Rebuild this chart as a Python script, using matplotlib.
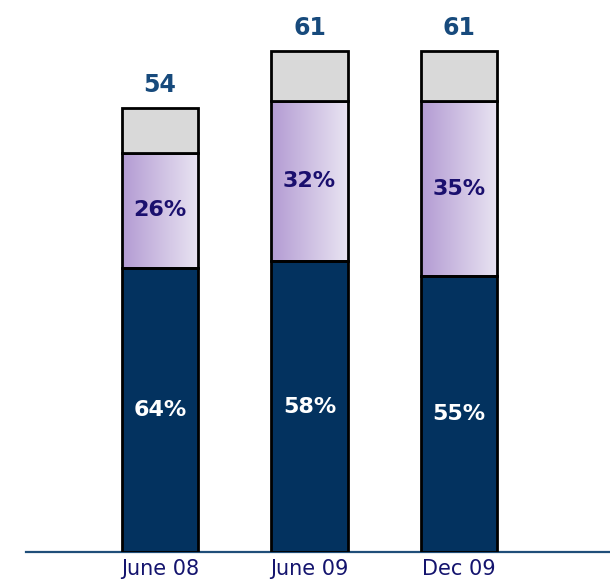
import matplotlib.pyplot as plt
import numpy as np
from matplotlib.colors import LinearSegmentedColormap

# totals and the share of each part (percent)
periods = ['June 08', 'June 09', 'Dec 09']
totals = [54, 61, 61]
share_main = [64, 58, 55]
share_mid = [26, 32, 35]
share_rest = [100 - a - b for a, b in zip(share_main, share_mid)]

NAVY = '#03325f'
GREY = '#d9d9d9'
TOTAL_COLOR = '#174a7c'
MID_TEXT = '#1a0f6e'
purple_fade = LinearSegmentedColormap.from_list('fade', ['#b39bd3', '#e9e4f2'])

fig = plt.figure(figsize=(6.10, 5.86), dpi=100)
ax = fig.add_axes([26 / 610, 34 / 586, 584 / 610, 552 / 586])

x = np.arange(len(periods))
width = 0.51
main = np.array(totals) * np.array(share_main) / 100
mid = np.array(totals) * np.array(share_mid) / 100
rest = np.array(totals) * np.array(share_rest) / 100

grad = np.linspace(0, 1, 256).reshape(1, -1)
for i in range(len(periods)):
    x0 = x[i] - width / 2
    # bottom block
    ax.bar(x[i], main[i], width, color=NAVY, edgecolor='black', linewidth=2, zorder=3)
    # middle block with a left-to-right purple fade
    ax.imshow(grad, cmap=purple_fade, aspect='auto', zorder=2,
              extent=(x0, x0 + width, main[i], main[i] + mid[i]))
    ax.bar(x[i], mid[i], width, bottom=main[i], facecolor='none',
           edgecolor='black', linewidth=2, zorder=3)
    # top block
    ax.bar(x[i], rest[i], width, bottom=main[i] + mid[i], color=GREY,
           edgecolor='black', linewidth=2, zorder=3)

    ax.text(x[i], main[i] / 2, f'{share_main[i]}%', ha='center', va='center',
            color='white', fontsize=16, fontweight='bold', zorder=4)
    ax.text(x[i], main[i] + mid[i] / 2, f'{share_mid[i]}%', ha='center', va='center',
            color=MID_TEXT, fontsize=16, fontweight='bold', zorder=4)
    ax.annotate(f'{totals[i]}', (x[i], totals[i]), xytext=(0, 8), textcoords='offset points',
                ha='center', va='bottom', color=TOTAL_COLOR, fontsize=17, fontweight='bold')

ax.set_xlim(-0.896, 3.01)
ax.set_ylim(0, 67.2)
ax.set_xticks(x)
ax.set_xticklabels(periods, fontsize=15, color='#14146e')
ax.tick_params(axis='x', length=0, pad=5)
ax.set_yticks([])
for side in ['top', 'right', 'left']:
    ax.spines[side].set_visible(False)
ax.spines['bottom'].set_color('#1f4e79')
ax.spines['bottom'].set_linewidth(1.6)

fig.savefig('out.png', dpi=100)
